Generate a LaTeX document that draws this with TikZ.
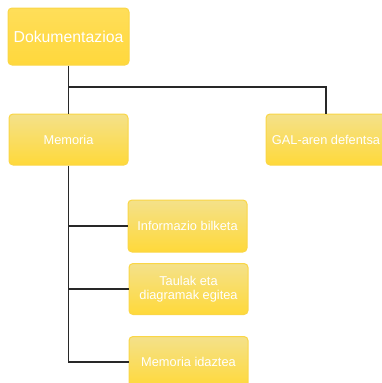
\documentclass[tikz,border=0pt]{standalone}
\usepackage{fontspec}
\setmainfont{Liberation Sans}
\usepackage{xcolor}

\definecolor{boxtop}{RGB}{244,225,138}
\definecolor{boxbot}{RGB}{255,217,58}
\definecolor{boxrim}{RGB}{250,214,70}
\definecolor{rootfill}{RGB}{255,216,60}
\definecolor{linegray}{RGB}{40,40,40}

\begin{document}
\begin{tikzpicture}[x=1pt,y=-1pt,
    task/.style={draw=boxrim, line width=1pt, rounded corners=4pt,
      top color=boxtop, bottom color=boxbot, text=white,
      minimum width=119pt, minimum height=51pt, align=center,
      inner sep=1pt, font=\fontsize{12.8}{14}\selectfont},
    root/.style={task, top color=rootfill!85!white, bottom color=rootfill,
      minimum width=121pt, minimum height=57pt,
      font=\fontsize{15.8}{18}\selectfont},
    link/.style={draw=linegray, line width=1.5pt}]

    \useasboundingbox (0,0) rectangle (382,383);

    % Top level
    \node[root] (dok) at (68.5,36.5) {Dokumentazioa};

    % Second level
    \node[task] (mem) at (68.5,139.5) {Memoria};
    \node[task, minimum width=120pt] (gal) at (326,139.5) {GAL-aren defentsa};

    % Tasks of Memoria
    \node[task, minimum height=52pt] (info) at (187.5,226) {Informazio bilketa};
    \node[task] (taulak) at (188.5,289) {Taulak eta\\diagramak egitea};
    \node[task] (idaztea) at (188.5,362) {Memoria idaztea};

    % Connectors
    \coordinate (split) at (68.5,87);
    \draw[link] (dok.south) -- (mem.north);
    \draw[link] (split) -| (gal.north);

    \draw[link] (mem.south) -- (mem.south |- idaztea.west) -- (idaztea.west);
    \draw[link] (mem.south |- info.west) -- (info.west);
    \draw[link] (mem.south |- taulak.west) -- (taulak.west);

\end{tikzpicture}
\end{document}
